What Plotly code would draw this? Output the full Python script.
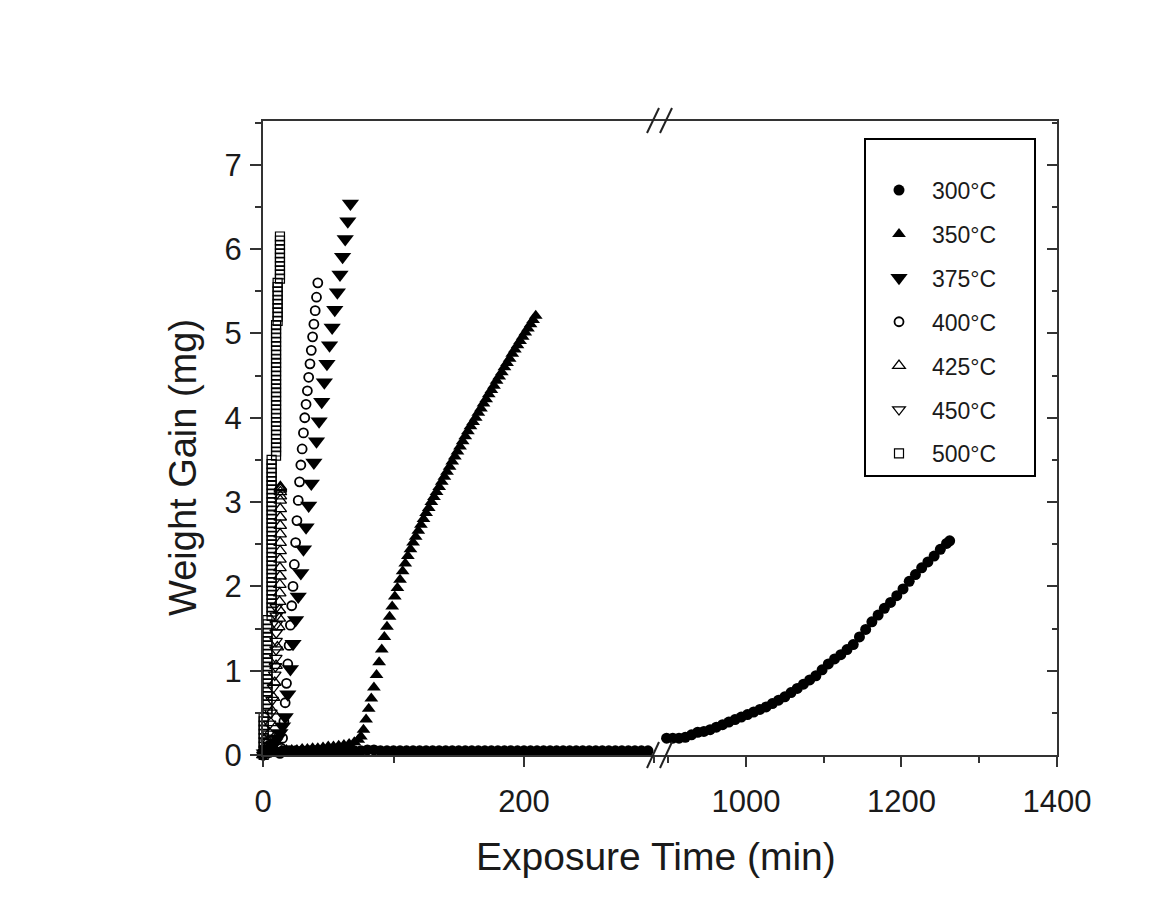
import plotly.graph_objects as go

# ---------------- data ----------------
# 300 °C : short-time part (left panel) and long-time part (right panel)
t300_a = [0, 5, 10, 15, 20, 25, 30, 35, 40, 45, 50, 55, 60, 65, 70, 75, 80, 85, 90, 95,
          100, 105, 110, 115, 120, 125, 130, 135, 140, 145, 150, 155, 160, 165, 170, 175,
          180, 185, 190, 195, 200, 205, 210, 215, 220, 225, 230, 235, 240, 245, 250, 255,
          260, 265, 270, 275, 280, 285, 290, 295]
w300_a = [0.00, 0.03, 0.04, 0.05, 0.05, 0.05, 0.05, 0.05, 0.05, 0.05, 0.05, 0.05, 0.05, 0.05,
          0.05, 0.05, 0.06, 0.06, 0.05, 0.05, 0.05, 0.05, 0.05, 0.05, 0.05, 0.05, 0.05, 0.05,
          0.05, 0.05, 0.05, 0.05, 0.05, 0.05, 0.05, 0.05, 0.05, 0.05, 0.05, 0.05, 0.05, 0.05,
          0.05, 0.05, 0.05, 0.05, 0.05, 0.05, 0.05, 0.05, 0.05, 0.05, 0.05, 0.05, 0.05, 0.05,
          0.05, 0.05, 0.05, 0.05]
t300_b = [898, 906, 914, 922, 930, 938, 946, 954, 962, 970, 978, 986, 994, 1002, 1010, 1018,
          1026, 1034, 1042, 1050, 1058, 1066, 1074, 1082, 1090, 1098, 1106, 1114, 1122, 1130,
          1138, 1146, 1154, 1162, 1170, 1178, 1186, 1194, 1202, 1210, 1218, 1226, 1234, 1242,
          1250, 1258, 1262]
w300_b = [0.20, 0.20, 0.20, 0.21, 0.24, 0.27, 0.28, 0.30, 0.33, 0.36, 0.39, 0.42, 0.45, 0.48,
          0.51, 0.54, 0.57, 0.61, 0.65, 0.69, 0.74, 0.79, 0.84, 0.89, 0.94, 1.01, 1.08, 1.14,
          1.19, 1.25, 1.31, 1.40, 1.49, 1.58, 1.66, 1.74, 1.81, 1.89, 1.97, 2.06, 2.14, 2.22,
          2.29, 2.36, 2.44, 2.51, 2.54]

t350 = [0, 3, 6, 10, 14, 18, 22, 26, 30, 34, 38, 42, 46, 50, 54, 58, 62, 66, 70, 73, 75,
        77, 79, 81, 83, 85, 87, 89, 91, 93, 95, 97, 99, 101, 103, 105, 107, 109, 111, 113,
        115, 117, 119, 121, 123, 125, 127, 129, 131, 133, 135, 137, 139, 141, 143, 145, 147,
        149, 151, 153, 155, 157, 159, 161, 163, 165, 167, 169, 171, 173, 175, 177, 179, 181,
        183, 185, 187, 189, 191, 193, 195, 197, 199, 201, 203, 205, 207, 209]
w350 = [0.00, 0.03, 0.04, 0.05, 0.05, 0.06, 0.06, 0.06, 0.07, 0.07, 0.08, 0.08, 0.09, 0.10,
        0.10, 0.11, 0.12, 0.13, 0.15, 0.18, 0.22,
        0.30, 0.42, 0.55, 0.67, 0.80, 0.95, 1.10, 1.25, 1.40, 1.52, 1.64, 1.76, 1.88, 1.98,
        2.08, 2.18, 2.27, 2.36, 2.44, 2.52, 2.59, 2.66, 2.73, 2.80, 2.87, 2.93, 3.00, 3.06,
        3.12, 3.18, 3.24, 3.30, 3.36, 3.42, 3.48, 3.54, 3.60, 3.66, 3.72, 3.78, 3.84, 3.90,
        3.95, 4.00, 4.06, 4.11, 4.17, 4.22, 4.28, 4.33, 4.38, 4.44, 4.49, 4.54, 4.60, 4.65,
        4.70, 4.76, 4.81, 4.86, 4.91, 4.96, 5.01, 5.06, 5.11, 5.16, 5.21]

t375 = [1, 3, 5, 7, 9, 11, 13, 15, 17, 19, 21, 23, 25, 27, 29, 31, 33, 35, 37, 39, 41, 43,
        45, 47, 49, 51, 53, 55, 57, 59, 61, 63, 65, 67]
w375 = [0.02, 0.05, 0.08, 0.11, 0.15, 0.20, 0.26, 0.34, 0.45, 0.72, 1.02, 1.32, 1.60, 1.88,
        2.16, 2.44, 2.70, 2.96, 3.22, 3.47, 3.72, 3.96, 4.19, 4.42, 4.64, 4.86, 5.07, 5.28,
        5.49, 5.70, 5.91, 6.12, 6.33, 6.54]

t400 = [13, 14, 15, 16, 17, 18, 19, 20, 21, 22, 23, 24, 25, 26, 27, 28, 29, 30, 31, 32, 33,
        34, 35, 36, 37, 38, 39, 40, 41, 42]
w400 = [0.02, 0.08, 0.20, 0.40, 0.62, 0.85, 1.08, 1.30, 1.54, 1.77, 2.00, 2.26, 2.52, 2.78,
        3.02, 3.24, 3.44, 3.63, 3.82, 4.00, 4.16, 4.32, 4.48, 4.64, 4.80, 4.96, 5.11, 5.27,
        5.43, 5.60]

t425 = [0, 1, 2, 3, 4, 5, 6, 7, 8, 9, 10, 11, 12, 12.5, 12.6, 12.7, 12.8, 12.9, 13.0, 13.0,
        13.0, 13.1, 13.1, 13.1, 13.2, 13.2, 13.2, 13.2, 13.3, 13.3, 13.3, 13.3, 13.3]
w425 = [0.00, 0.02, 0.05, 0.10, 0.17, 0.26, 0.38, 0.52, 0.68, 0.86, 1.06, 1.28, 1.52, 1.62,
        1.72, 1.82, 1.92, 2.02, 2.12, 2.22, 2.32, 2.42, 2.52, 2.62, 2.72, 2.82, 2.92, 3.02,
        3.07, 3.12, 3.15, 3.17, 3.18]

t450 = [0, 1, 2, 3, 4, 5, 6, 7, 8, 9, 9.5, 9.8, 10.0, 10.0, 10.1, 10.1, 10.2, 10.2]
w450 = [0.00, 0.03, 0.08, 0.15, 0.25, 0.37, 0.50, 0.65, 0.80, 0.95, 1.05, 1.15, 1.25, 1.35,
        1.45, 1.55, 1.65, 1.75]

t500 = [0.5, 0.5, 0.5, 0.5, 0.5, 0.5, 0.5, 0.5, 0.5, 0.5,
        3.4, 3.4, 3.4, 3.4, 3.4, 3.4, 3.4, 3.4, 3.4, 3.4, 3.4, 3.4, 3.4, 3.4, 3.4, 3.4, 3.4,
        3.4, 3.4, 3.4, 3.4, 3.4, 3.4,
        6.6, 6.6, 6.6, 6.6, 6.6, 6.6, 6.6, 6.6, 6.6, 6.6, 6.6, 6.6, 6.6, 6.6, 6.6, 6.6, 6.6,
        6.6, 6.6, 6.6, 6.6, 6.6, 6.6, 6.6, 6.6, 6.6, 6.6, 6.6, 6.6, 6.6, 6.6, 6.6, 6.6, 6.6,
        6.6, 6.6, 6.6, 6.6,
        10.0, 10.0, 10.0, 10.0, 10.0, 10.0, 10.0, 10.0, 10.0, 10.0, 10.0, 10.0, 10.0, 10.0,
        10.0, 10.0, 10.0, 10.0, 10.0, 10.0, 10.0, 10.0, 10.0, 10.0, 10.0, 10.0, 10.0, 10.0,
        10.0, 10.0, 10.0, 10.0,
        11.2, 11.2, 11.2, 11.2, 11.2, 11.2, 11.2, 11.2, 11.2, 11.2,
        13.0, 13.0, 13.0, 13.0, 13.0, 13.0, 13.0, 13.0, 13.0, 13.0, 13.0]
w500 = [0.00, 0.05, 0.10, 0.15, 0.20, 0.25, 0.30, 0.35, 0.40, 0.45,
        0.50, 0.55, 0.60, 0.65, 0.70, 0.75, 0.80, 0.85, 0.90, 0.95, 1.00, 1.05, 1.10, 1.15,
        1.20, 1.25, 1.30, 1.35, 1.40, 1.45, 1.50, 1.55, 1.60,
        1.65, 1.70, 1.75, 1.80, 1.85, 1.90, 1.95, 2.00, 2.05, 2.10, 2.15, 2.20, 2.25, 2.30,
        2.35, 2.40, 2.45, 2.50, 2.55, 2.60, 2.65, 2.70, 2.75, 2.80, 2.85, 2.90, 2.95, 3.00,
        3.05, 3.10, 3.15, 3.20, 3.25, 3.30, 3.35, 3.40, 3.45, 3.50,
        3.55, 3.60, 3.65, 3.70, 3.75, 3.80, 3.85, 3.90, 3.95, 4.00, 4.05, 4.10, 4.15, 4.20,
        4.25, 4.30, 4.35, 4.40, 4.45, 4.50, 4.55, 4.60, 4.65, 4.70, 4.75, 4.80, 4.85, 4.90,
        4.95, 5.00, 5.05, 5.10,
        5.15, 5.20, 5.25, 5.30, 5.35, 5.40, 5.45, 5.50, 5.55, 5.60,
        5.65, 5.70, 5.75, 5.80, 5.85, 5.90, 5.95, 6.00, 6.05, 6.10, 6.15]

legend_names = ["300°C", "350°C", "375°C", "400°C", "425°C", "450°C", "500°C"]
x_left_ticks = [0, 200]
x_right_ticks = [1000, 1200, 1400]

# ---------------- figure ----------------
FONT = "Liberation Sans, Arial, sans-serif"
INK = "#1a1a1a"
OFF = 8                      # page body margin of the html page
W, H = 1153 - OFF, 902 - OFF
PLOT_L, PLOT_R, PLOT_T, PLOT_B = 263, 1057, 121, 755   # plot frame in window pixels
ML, MR, MT, MB = PLOT_L - OFF, 1153 - PLOT_R, PLOT_T - OFF, 902 - PLOT_B
PW, PH = PLOT_R - PLOT_L, PLOT_B - PLOT_T
SPLIT = 0.4975  # fraction of plot width where the axis break sits
PADR = "\u00a0" * 5  # right-hand padding inside the legend box

fig = go.Figure()

def add(x, y, name, symbol, size, group, filled=True, showlegend=True, xaxis="x", yaxis="y", lw=1.3):
    fig.add_trace(go.Scatter(
        x=x, y=y, mode="markers", name=name + PADR, legendgroup=group, showlegend=showlegend,
        xaxis=xaxis, yaxis=yaxis, cliponaxis=False,
        marker=dict(symbol=symbol, size=size, color="black",
                    line=dict(color="black", width=0 if filled else lw)),
    ))

add(t300_a, w300_a, legend_names[0], "circle", 11, "g300")
add(t300_b, w300_b, legend_names[0], "circle", 11, "g300", showlegend=False, xaxis="x2", yaxis="y2")
add(t350, w350, legend_names[1], "triangle-up", 12, "g350")
add(t375, w375, legend_names[2], "triangle-down", 15, "g375")
add(t400, w400, legend_names[3], "circle-open", 9, "g400", filled=False, lw=1.8)
add(t425, w425, legend_names[4], "triangle-up-open", 11, "g425", filled=False)
add(t450, w450, legend_names[5], "triangle-down-open", 11, "g450", filled=False)
add(t500, w500, legend_names[6], "square-open", 9, "g500", filled=False, lw=1.2)

axis_common = dict(
    showline=True, linecolor="#333333", linewidth=2, showgrid=False, zeroline=False,
    tickcolor="#333333", tickwidth=2,
    tickfont=dict(family=FONT, size=31, color=INK),
)

def px2paper(px, py):
    return (px - PLOT_L) / PW, (PLOT_B - py) / PH

lx, ly = px2paper(864, 138)

fig.update_layout(
    width=W, height=H,
    margin=dict(l=ML, r=MR, t=MT, b=MB, pad=0),
    paper_bgcolor="white", plot_bgcolor="white",
    font=dict(family=FONT, color=INK),
    xaxis=dict(domain=[0, SPLIT], range=[0, 302.7], anchor="y", mirror=True,
               ticks="outside", ticklen=10, tickvals=x_left_ticks, ticklabelstandoff=8,
               minor=dict(ticks="outside", ticklen=6, dtick=100, tick0=0,
                          tickcolor="#333333", tickwidth=2),
               **axis_common),
    xaxis2=dict(domain=[SPLIT, 1], range=[887, 1400], anchor="y", mirror=True,
                ticks="outside", ticklen=10, tickvals=x_right_ticks, ticklabelstandoff=8,
                minor=dict(ticks="outside", ticklen=6, dtick=100, tick0=1000,
                           tickcolor="#333333", tickwidth=2),
                **axis_common),
    yaxis=dict(range=[0, 7.52], anchor="x", ticks="outside", ticklen=11, dtick=1,
               ticklabelstandoff=2,
               minor=dict(ticks="outside", ticklen=6, dtick=0.5,
                          tickcolor="#333333", tickwidth=2),
               **axis_common),
    yaxis2=dict(range=[0, 7.52], anchor="x2", overlaying="y", side="right",
                ticks="inside", ticklen=10, dtick=1, showticklabels=False,
                minor=dict(ticks="inside", ticklen=5, dtick=0.5,
                           tickcolor="#333333", tickwidth=2),
                **axis_common),
    legend=dict(
        x=lx, y=ly, xanchor="left", yanchor="top",
        bordercolor="black", borderwidth=2, bgcolor="white",
        font=dict(family=FONT, size=23, color=INK),
        tracegroupgap=11, itemwidth=56, traceorder="grouped",
        title=dict(text=" ", font=dict(size=22)),
    ),
    showlegend=True,
)

# axis titles
tx, ty = px2paper(656, 857)
fig.add_annotation(text="Exposure Time (min)", xref="paper", yref="paper",
                   x=tx, y=ty, showarrow=False, xanchor="center", yanchor="middle",
                   font=dict(family=FONT, size=39, color=INK))
yx, yy = px2paper(183, 468)
fig.add_annotation(text="Weight Gain (mg)", xref="paper", yref="paper",
                   x=yx, y=yy, showarrow=False, textangle=-90,
                   xanchor="center", yanchor="middle",
                   font=dict(family=FONT, size=38, color=INK))

# axis-break marks "//" on the bottom and top frame lines
for (x0, y0, x1, y1) in [(647, 768, 659, 742), (660, 768, 672, 742),
                         (647, 133, 659, 108), (660, 133, 672, 108)]:
    a0, b0 = px2paper(x0, y0)
    a1, b1 = px2paper(x1, y1)
    fig.add_shape(type="line", xref="paper", yref="paper", x0=a0, y0=b0, x1=a1, y1=b1,
                  line=dict(color="#222222", width=2))

fig.write_html("out.html")
